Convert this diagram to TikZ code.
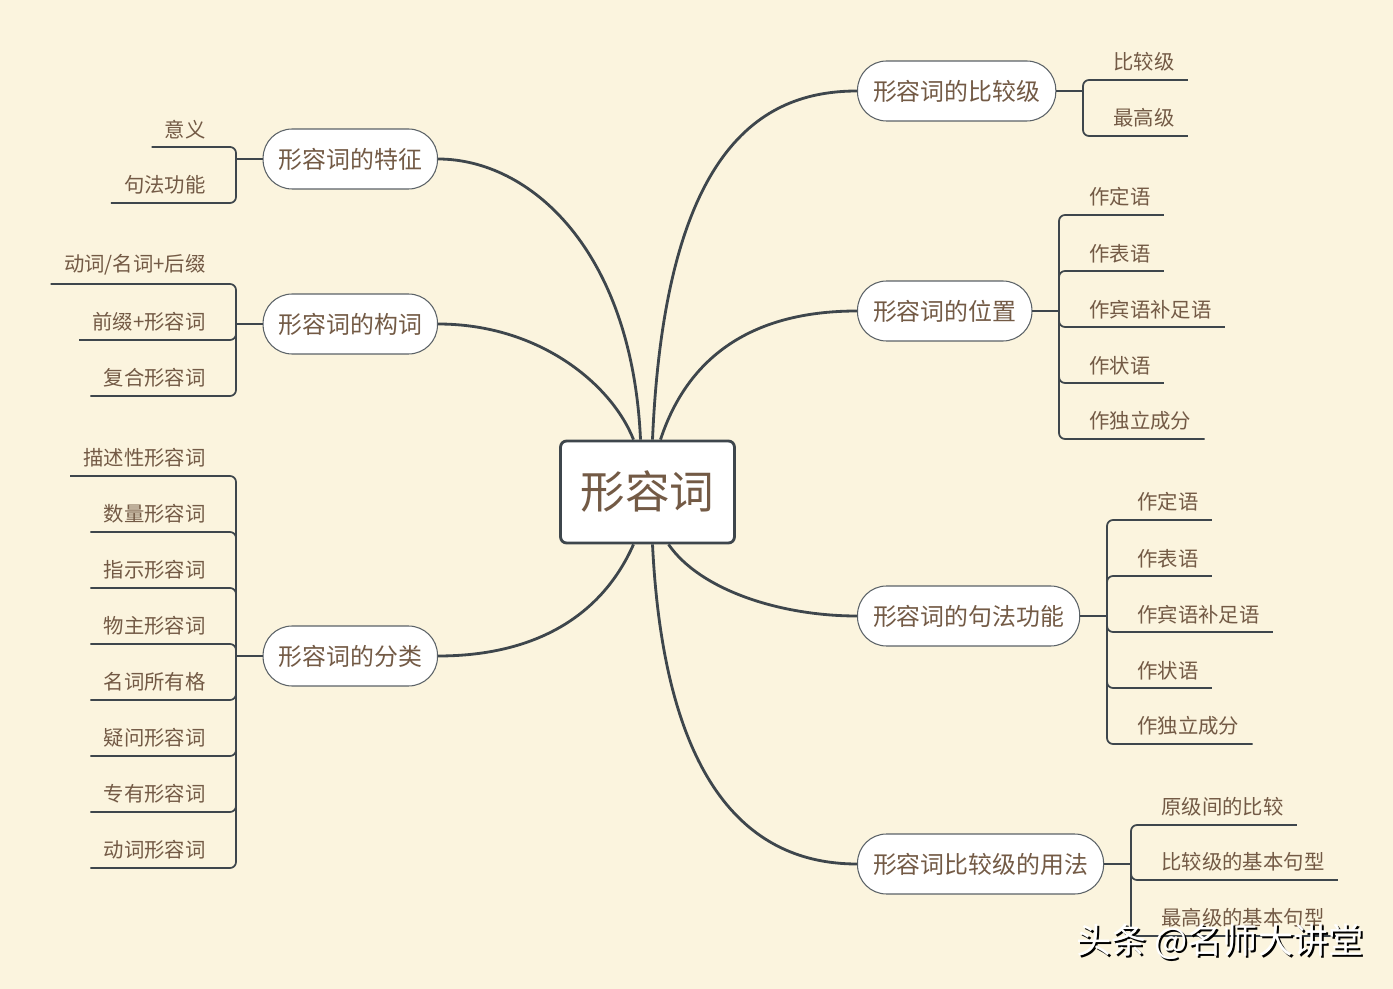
\documentclass[tikz,border=0pt]{standalone}
\usepackage{fontspec}
\newfontfamily\cjk{Noto Sans CJK SC}
\usepackage{xcolor}
\usetikzlibrary{calc}
\definecolor{bgcream}{HTML}{FBF4DE}
\definecolor{txtbrown}{HTML}{735A45}
\definecolor{linegray}{HTML}{3E464C}
\tikzset{
	root/.style={draw=linegray, line width=1.6pt, fill=white, rounded corners=0.12cm,
			inner xsep=0.4cm, minimum height=2.04cm, text=txtbrown,
			font=\cjk\fontsize{25.4}{30}\selectfont},
	topic/.style={draw=linegray!85, line width=0.6pt, fill=white, rounded corners=0.58cm,
			inner xsep=0.31cm, minimum height=1.2cm, text=txtbrown,
			font=\cjk\fontsize{13.6}{16}\selectfont},
	leaf/.style={inner xsep=0.26cm, inner ysep=0.16cm, text=txtbrown,
			font=\cjk\fontsize{11.6}{14}\selectfont},
	branch/.style={draw=linegray, line width=1.6pt},
	twig/.style={draw=linegray, line width=1pt, rounded corners=0.12cm}
}

\begin{document}
\begin{tikzpicture}[x=0.02cm, y=-0.02cm]
			\fill[bgcream] (0, 0) rectangle (1393, 989);
			\useasboundingbox (0, 0) rectangle (1393, 989);

			% centre and the seven topics
			\node[root] (root) at (647.5, 492) {形容词};
			\node[topic, anchor=east] (feat) at (438, 159) {形容词的特征};
			\node[topic, anchor=east] (form) at (438, 324) {形容词的构词};
			\node[topic, anchor=east] (kind) at (438, 656) {形容词的分类};
			\node[topic, anchor=west] (comp) at (857, 91) {形容词的比较级};
			\node[topic, anchor=west] (posi) at (857, 311) {形容词的位置};
			\node[topic, anchor=west] (synt) at (857, 616) {形容词的句法功能};
			\node[topic, anchor=west] (usage) at (857, 864) {形容词比较级的用法};

			\draw[branch] ($(root.north)+(-7,0)$) .. controls (632, 250) and (530, 159) .. (feat.east);
			\draw[branch] ($(root.north)+(-14,0)$) .. controls (612, 385) and (540, 324) .. (form.east);
			\draw[branch] ($(root.south)+(-14,0)$) .. controls (600, 620) and (530, 656) .. (kind.east);
			\draw[branch] ($(root.north)+(5,0)$) .. controls (665, 150) and (760, 91) .. (comp.west);
			\draw[branch] ($(root.north)+(13,0)$) .. controls (690, 350) and (760, 311) .. (posi.west);
			\draw[branch] ($(root.south)+(21,0)$) .. controls (700, 590) and (780, 616) .. (synt.west);
			\draw[branch] ($(root.south)+(5,0)$) .. controls (665, 800) and (760, 864) .. (usage.west);

			% left leaves
			\coordinate (featj) at (236, 159);
			\node[leaf, anchor=south east] (feat1) at (219, 147) {意义};
			\node[leaf, anchor=south east] (feat2) at (219, 203) {句法功能};
			\draw[twig] (feat.west) -- (featj);
			\draw[twig] (featj) |- (feat1.south west);
			\draw[twig] (featj) |- (feat2.south west);

			\coordinate (formj) at (236, 324);
			\node[leaf, anchor=south east] (form1) at (219, 284) {动词/名词+后缀};
			\node[leaf, anchor=south east] (form2) at (219, 340) {前缀+形容词};
			\node[leaf, anchor=south east] (form3) at (219, 396) {复合形容词};
			\draw[twig] (form.west) -- (formj);
			\draw[twig] (formj) |- (form1.south west);
			\draw[twig] (formj) |- (form2.south west);
			\draw[twig] (formj) |- (form3.south west);

			\coordinate (kindj) at (236, 656);
			\node[leaf, anchor=south east] (kind1) at (219, 476) {描述性形容词};
			\node[leaf, anchor=south east] (kind2) at (219, 532) {数量形容词};
			\node[leaf, anchor=south east] (kind3) at (219, 588) {指示形容词};
			\node[leaf, anchor=south east] (kind4) at (219, 644) {物主形容词};
			\node[leaf, anchor=south east] (kind5) at (219, 700) {名词所有格};
			\node[leaf, anchor=south east] (kind6) at (219, 756) {疑问形容词};
			\node[leaf, anchor=south east] (kind7) at (219, 812) {专有形容词};
			\node[leaf, anchor=south east] (kind8) at (219, 868) {动词形容词};
			\draw[twig] (kind.west) -- (kindj);
			\draw[twig] (kindj) |- (kind1.south west);
			\draw[twig] (kindj) |- (kind2.south west);
			\draw[twig] (kindj) |- (kind3.south west);
			\draw[twig] (kindj) |- (kind4.south west);
			\draw[twig] (kindj) |- (kind5.south west);
			\draw[twig] (kindj) |- (kind6.south west);
			\draw[twig] (kindj) |- (kind7.south west);
			\draw[twig] (kindj) |- (kind8.south west);

			% right leaves
			\coordinate (compj) at (1083, 91);
			\node[leaf, anchor=south west] (comp1) at (1100, 80) {比较级};
			\node[leaf, anchor=south west] (comp2) at (1100, 136) {最高级};
			\draw[twig] (comp.east) -- (compj);
			\draw[twig] (compj) |- (comp1.south east);
			\draw[twig] (compj) |- (comp2.south east);

			\coordinate (posij) at (1059, 311);
			\node[leaf, anchor=south west] (posi1) at (1076, 215) {作定语};
			\node[leaf, anchor=south west] (posi2) at (1076, 271) {作表语};
			\node[leaf, anchor=south west] (posi3) at (1076, 327) {作宾语补足语};
			\node[leaf, anchor=south west] (posi4) at (1076, 383) {作状语};
			\node[leaf, anchor=south west] (posi5) at (1076, 439) {作独立成分};
			\draw[twig] (posi.east) -- (posij);
			\draw[twig] (posij) |- (posi1.south east);
			\draw[twig] (posij) |- (posi2.south east);
			\draw[twig] (posij) |- (posi3.south east);
			\draw[twig] (posij) |- (posi4.south east);
			\draw[twig] (posij) |- (posi5.south east);

			\coordinate (syntj) at (1107, 616);
			\node[leaf, anchor=south west] (synt1) at (1124, 520) {作定语};
			\node[leaf, anchor=south west] (synt2) at (1124, 576) {作表语};
			\node[leaf, anchor=south west] (synt3) at (1124, 632) {作宾语补足语};
			\node[leaf, anchor=south west] (synt4) at (1124, 688) {作状语};
			\node[leaf, anchor=south west] (synt5) at (1124, 744) {作独立成分};
			\draw[twig] (synt.east) -- (syntj);
			\draw[twig] (syntj) |- (synt1.south east);
			\draw[twig] (syntj) |- (synt2.south east);
			\draw[twig] (syntj) |- (synt3.south east);
			\draw[twig] (syntj) |- (synt4.south east);
			\draw[twig] (syntj) |- (synt5.south east);

			\coordinate (usagej) at (1131, 864);
			\node[leaf, anchor=south west] (usage1) at (1148, 825) {原级间的比较};
			\node[leaf, anchor=south west] (usage2) at (1148, 880) {比较级的基本句型};
			\node[leaf, anchor=south west] (usage3) at (1148, 936) {最高级的基本句型};
			\draw[twig] (usage.east) -- (usagej);
			\draw[twig] (usagej) |- (usage1.south east);
			\draw[twig] (usagej) |- (usage2.south east);
			\draw[twig] (usagej) |- (usage3.south east);

			% watermark
			\node[text=black, font=\cjk\fontsize{20}{24}\selectfont] (markshadow) at (1222, 944) {头条 @名师大讲堂};
			\node[text=white, font=\cjk\fontsize{20}{24}\selectfont] (mark) at (1220, 942) {头条 @名师大讲堂};
		\end{tikzpicture}
\end{document}
